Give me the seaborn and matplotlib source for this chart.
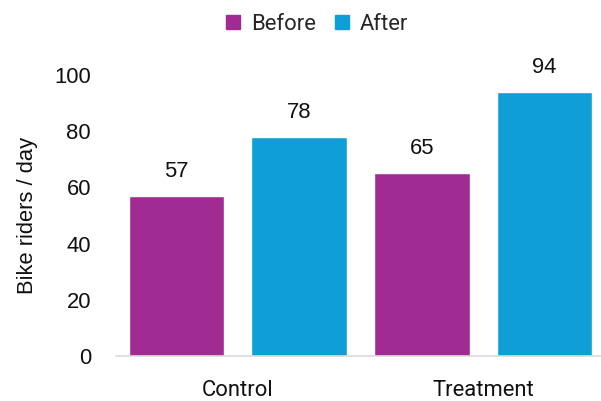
import matplotlib
matplotlib.use("Agg")
import matplotlib.pyplot as plt
import seaborn as sns
import pandas as pd
from matplotlib.lines import Line2D

groups = ["Control", "Control", "Treatment", "Treatment"]
phases = ["Before", "After", "Before", "After"]
riders = [57, 78, 65, 94]
phase_order = ["Before", "After"]
palette = {"Before": "#A02B93", "After": "#0F9ED5"}
y_ticks = [0, 20, 40, 60, 80, 100]

df = pd.DataFrame({"group": groups, "phase": phases, "riders": riders})

sns.set_theme(style="white")
plt.rcParams["font.family"] = ["Liberation Sans", "DejaVu Sans"]

FS = 15.8

fig = plt.figure(figsize=(6.01, 4.01), dpi=100)
ax = fig.add_axes([0.193, 0.112, 0.805, 0.701])

sns.barplot(data=df, x="group", y="riders", hue="phase", hue_order=phase_order,
            palette=palette, width=1.0, gap=0.22, saturation=1.0,
            legend=False, ax=ax)

for container in ax.containers:
    ax.bar_label(container, fmt="%d", padding=10, fontsize=FS, color="#111111")

ax.set_ylim(0, 100)
ax.set_xlim(-0.496, 1.475)
ax.set_yticks(y_ticks)
ax.tick_params(axis="y", length=0, pad=18, labelsize=FS, labelcolor="#111111")
ax.tick_params(axis="x", length=0, pad=17, labelsize=FS, labelcolor="#111111")
for lbl in ax.get_xticklabels():
    lbl.set_family(["Roboto", "DejaVu Sans"])
ax.set_xlabel("")
ax.set_ylabel("Bike riders / day", fontsize=FS, color="#111111", labelpad=12)

for side in ["top", "right", "left"]:
    ax.spines[side].set_visible(False)
ax.spines["bottom"].set_color("#d9d9d9")
ax.spines["bottom"].set_linewidth(1.2)

handles = [Line2D([0], [0], marker="s", linestyle="", markersize=9.5,
                  markerfacecolor=palette[p], markeredgecolor=palette[p], label=p)
           for p in phase_order]
fig.legend(handles=handles, loc="upper center", bbox_to_anchor=(0.525, 1.015),
           ncol=2, frameon=False, handlelength=0.9, handletextpad=0.35,
           columnspacing=0.75,
           prop={"family": ["Roboto", "DejaVu Sans"], "size": FS})

fig.savefig("out.png", dpi=100)
